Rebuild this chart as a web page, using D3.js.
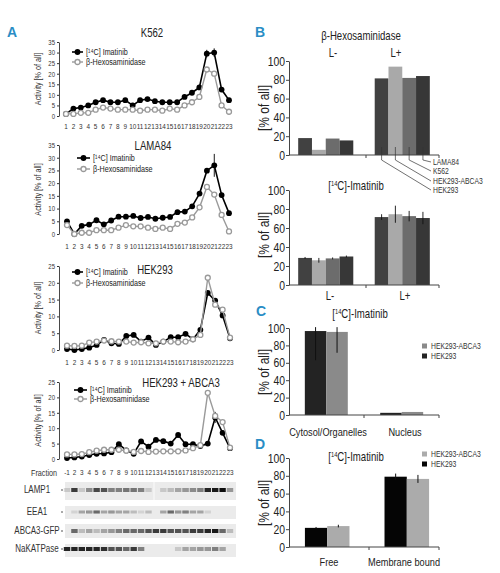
<!DOCTYPE html>
<html><head><meta charset="utf-8">
<script src="https://cdn.jsdelivr.net/npm/d3@7"></script>
<style>
body{margin:0;background:#fff}
svg{display:block}
text{font-family:"Liberation Sans",Arial,sans-serif;fill:#222}
tspan{fill:#1a1a1a}
</style></head><body>
<svg id="c" width="500" height="573"></svg>
<script>
// ---------- DATA ----------
const fractionTicks = ["1","2","3","4","5","6","7","8","9","10","11","12","13","14","15","16","17","18","19","20","21","22","23"];
const fractionTicksABCA3 = ["-1","2","3","4","5","6","7","8","9","10","11","12","13","14","15","16","17","18","19","20","21","22","23"];

const k562Imatinib = [1,3.5,4,5,6.5,7.5,6.5,6.5,7.5,5,7.5,8,7,6.5,6.5,6.5,9,11,13.5,29.5,30,12.5,7.5];
const k562Hex      = [1,1,1.5,1.5,3,4,3.5,3,3,3,2.5,3,3,2.5,3.5,3,5,6.5,9,22,20,5,2];
const k562Err      = [["20",1.8],["21",2]];

const lamaImatinib = [5,0,3.2,3.7,5.4,3.8,5.3,6.8,6.8,7.1,6.3,6.7,6,6.4,6.7,8.6,8.8,10.9,15.9,24.9,27,15.3,8.2];
const lamaHex      = [3.5,0,0.5,0.5,1.5,1.5,1.5,2.5,3.5,3,3,2.5,2,2.5,2,4,4.5,6.5,10.5,18.5,15.5,7.5,1];
const lamaErr      = [["21",4.5]];

const hekImatinib = [0.3,0,0.3,0.7,1.5,3,2,1.8,4.2,4.5,2.5,3.7,1.5,2.5,3.8,3.8,4.8,3.2,6,17,14.7,10.3,3.5];
const hekHex      = [1.3,1.2,1.3,2.2,2.5,2.8,2.6,2.5,2.5,2.2,2.3,2,2,2.5,2.5,2.3,2.5,3.2,4.5,21.5,13.5,12,3.7];

const abcaImatinib = [0.3,0.5,0.8,1.3,1.7,1.8,2.2,4.8,2.8,1.7,5.7,4,6.2,5.8,5,7.8,4.8,4.8,4.2,5,13.5,8.5,3.5];
const abcaHex      = [1.5,1.5,1.6,2.2,2.7,3,3,3,2.7,2.3,2.6,2.3,2.4,2.5,2.5,2.5,2.8,3.5,4.5,21.5,14,12,3.7];
const abcaErr      = [["21",1.8]];

const seriesNamesA = ["[¹⁴C] Imatinib","β-Hexosaminidase"];

const blotNames = ["LAMP1","EEA1","ABCA3-GFP","NaKATPase"];
const blotLAMP1 = [0.15,0.8,0.15,0.45,0.75,0.7,0.5,0.5,0.55,0.55,0.5,0.15,0,0.15,0.2,0.3,0.4,0.45,0.5,0.9,0.95,1,0.4];
const blotEEA1  = [0,0.1,0.3,0.4,0.6,0.3,0.4,0.3,0.3,0.2,0.1,0.2,0,0.3,0.6,0.4,0.5,0.3,0.3,0.1,0,0,0];
const blotABCA3 = [0,0.6,0.2,0.3,0.2,0.3,0.4,0.5,0.6,0.6,0.6,0.7,0.8,0.8,0.7,0.7,0.7,0.8,0.8,0.9,0.95,0.6,0.2];
const blotNaK   = [0.9,0.9,0.9,0.9,0.9,0.85,0.7,0.7,0.6,0.8,0.5,0,0,0,0,0.15,0.3,0.3,0.4,0.4,0.5,0.3,0];

const bGroups = ["L-","L+"];
const bSeries = ["HEK293","HEK293-ABCA3","K562","LAMA84"];
const bColors = ["#414141","#a9a9a9","#6c6c6c","#373737"];
const bHexLminus = [18,5.5,17.5,15.5];
const bHexLplus  = [81.5,94,82,84];
const bImaLminus = [28.5,26,28,30];
const bImaLplus  = [71.5,74.5,72.5,70.5];
const bImaErrLminus = [1,2.5,1,1];
const bImaErrLplus  = [3,9,5.5,6.5];
const bLegendOrder = ["LAMA84","K562","HEK293-ABCA3","HEK293"];

const cGroups = ["Cytosol/Organelles","Nucleus"];
const cSeries = ["HEK293","HEK293-ABCA3"];
const cColors = ["#232323","#8a8a8a"];
const cValues = [[96.5,95.5],[2.5,3.5]];
const cErrLow  = [[63,71.5],[2.5,3.5]];
const cErrHigh = [[101,101],[2.5,3.5]];

const dGroups = ["Free","Membrane bound"];
const dSeries = ["HEK293","HEK293-ABCA3"];
const dColors = ["#050505","#ababab"];
const dValues = [[21.5,23.5],[79,76.5]];
const dErr    = [[1,1.5],[3.5,4.5]];

const percentTicks = [0,20,40,60,80,100];
const activityTicks35 = [0,5,10,15,20,25,30,35];
const activityTicks25 = [0,5,10,15,20,25];

// ---------- DRAW ----------
const svg = d3.select("#c");
const blue = "#2a8dc5";
const NARROW = 0.8;

function panelLetter(t,x,y){
  svg.append("text").attr("class","letter").attr("x",x).attr("y",y).text(t)
    .style("font-weight","bold").style("font-size","14px").style("fill",blue);
}
function c14(sel, size, after){
  sel.append("tspan").text("[");
  sel.append("tspan").text("14").style("font-size",(size*0.6)+"px").attr("dy",-size*0.35);
  sel.append("tspan").text("C]"+after).attr("dy",size*0.35);
}

panelLetter("A",7,37);
panelLetter("B",255,37);
panelLetter("C",256,316);
panelLetter("D",255,449);

function lineChart(o){
  const g = svg.append("g");
  const x = d3.scalePoint().domain(o.ticks).range([o.x0,o.x1]);
  const y = d3.scaleLinear().domain([0,o.ymax]).range([o.yb,o.yt]);
  const ax = g.append("g").attr("transform",`translate(${o.ax},0)`)
    .call(d3.axisLeft(y).tickValues(o.yticks).tickSize(2).tickPadding(2).tickSizeOuter(0));
  ax.select(".domain").attr("stroke","#333").attr("stroke-width",0.9);
  ax.selectAll(".tick line").attr("stroke","#333");
  ax.selectAll(".tick text").style("font-size","7.5px").style("fill","#333");
  g.append("g").selectAll("text").data(o.ticks).join("text")
    .attr("x",d=>x(d)).attr("y",o.xl).attr("text-anchor","middle")
    .style("font-size","8px").style("fill","#333").text(d=>d);
  g.append("text").attr("transform",`translate(${o.ylx},${(o.yb+o.yt)/2}) rotate(-90)`)
    .attr("text-anchor","middle").style("font-size","9px").style("fill","#333").text("Activity [% of all]");
  g.append("text").attr("x",o.tx).attr("y",o.ty).attr("text-anchor","middle")
    .style("font-size","12px").style("fill","#222").text(o.title);
  const line = d3.line().x((d,i)=>x(o.ticks[i])).y(d=>y(d));
  g.append("path").attr("d",line(o.ima)).attr("fill","none").attr("stroke","#000").attr("stroke-width",1.6);
  (o.err||[]).forEach(([f,e])=>{
    const i = o.ticks.indexOf(f);
    g.append("line").attr("x1",x(f)).attr("x2",x(f)).attr("y1",y(o.ima[i]-e)).attr("y2",y(o.ima[i]+e))
      .attr("stroke","#000").attr("stroke-width",0.9);
  });
  g.append("g").selectAll("circle").data(o.ima).join("circle")
    .attr("cx",(d,i)=>x(o.ticks[i])).attr("cy",d=>y(d)).attr("r",2.9).attr("fill","#000");
  g.append("path").attr("d",line(o.hex)).attr("fill","none").attr("stroke","#9a9a9a").attr("stroke-width",1.4);
  g.append("g").selectAll("circle").data(o.hex).join("circle")
    .attr("cx",(d,i)=>x(o.ticks[i])).attr("cy",d=>y(d)).attr("r",2.5)
    .attr("fill","#fff").attr("stroke","#9a9a9a").attr("stroke-width",1.3);
  const L = o.leg;
  g.append("line").attr("x1",L.x).attr("x2",L.x+L.w).attr("y1",L.y1).attr("y2",L.y1).attr("stroke","#000").attr("stroke-width",1.6);
  g.append("circle").attr("cx",L.x+L.w/2).attr("cy",L.y1).attr("r",2.9).attr("fill","#000");
  g.append("text").attr("x",L.x+L.w+3).attr("y",L.y1+3).style("font-size","9px").style("fill","#1a1a1a").text(seriesNamesA[0]);
  g.append("line").attr("x1",L.x).attr("x2",L.x+L.w).attr("y1",L.y2).attr("y2",L.y2).attr("stroke","#9a9a9a").attr("stroke-width",1.4);
  g.append("circle").attr("cx",L.x+L.w/2).attr("cy",L.y2).attr("r",2.5).attr("fill","#fff").attr("stroke","#9a9a9a").attr("stroke-width",1.3);
  g.append("text").attr("x",L.x+L.w+3).attr("y",L.y2+3).style("font-size","9px").style("fill","#1a1a1a").text(seriesNamesA[1]);
  return x;
}

lineChart({ticks:fractionTicks,x0:66,x1:229,ax:59,yt:42,yb:116,ymax:35,yticks:activityTicks35,xl:129,ylx:41,
  title:"K562",tx:152,ty:37,ima:k562Imatinib,hex:k562Hex,err:k562Err,leg:{x:72,w:11,y1:52,y2:62}});
lineChart({ticks:fractionTicks,x0:67,x1:229,ax:59,yt:145,yb:234,ymax:35,yticks:activityTicks35,xl:249,ylx:41,
  title:"LAMA84",tx:153,ty:150,ima:lamaImatinib,hex:lamaHex,err:lamaErr,leg:{x:77,w:13,y1:158,y2:169}});
lineChart({ticks:fractionTicks,x0:67,x1:230,ax:59,yt:266,yb:350,ymax:25,yticks:activityTicks25,xl:365,ylx:41,
  title:"HEK293",tx:155,ty:274,ima:hekImatinib,hex:hekHex,err:[],leg:{x:72,w:11,y1:272,y2:283}});
const xAb = lineChart({ticks:fractionTicksABCA3,x0:67,x1:230,ax:59,yt:382,yb:459,ymax:25,yticks:activityTicks25,xl:475,ylx:41,
  title:"HEK293 + ABCA3",tx:181,ty:387,ima:abcaImatinib,hex:abcaHex,err:abcaErr,leg:{x:74,w:13,y1:390,y2:399}});
svg.append("text").attr("x",44).attr("y",476).attr("text-anchor","middle").style("font-size","9px").style("fill","#333").text("Fraction");

// blots
const defs = svg.append("defs");
defs.append("filter").attr("id","blur").append("feGaussianBlur").attr("stdDeviation",0.7);
const blotData = [blotLAMP1,blotEEA1,blotABCA3,blotNaK];
const blotRows = [{y0:482,y1:500,by:490,bh:4},{y0:506,y1:519,by:512,bh:3},{y0:524,y1:538,by:531,bh:4},{y0:544,y1:557,by:549,bh:4}];
blotRows.forEach((r,k)=>{
  svg.append("rect").attr("x",65).attr("y",r.y0).attr("width",171).attr("height",r.y1-r.y0).attr("fill","#ebebeb");
  svg.append("text").attr("x",37).attr("y",r.by+3).attr("text-anchor","middle").style("font-size","10px").style("fill","#333").text(blotNames[k]);
  svg.append("line").attr("x1",61).attr("x2",63).attr("y1",r.by).attr("y2",r.by).attr("stroke","#555");
  svg.append("g").attr("filter","url(#blur)").selectAll("rect").data(blotData[k]).join("rect")
    .attr("x",(d,i)=>xAb(fractionTicksABCA3[i])-3.2).attr("y",r.by-r.bh/2).attr("width",6.4).attr("height",r.bh)
    .attr("fill","#111").attr("opacity",d=>d);
});
svg.append("line").attr("x1",154).attr("x2",154).attr("y1",482).attr("y2",500).attr("stroke","#fff").attr("stroke-width",0.8);

function barAxes(g,y,x0,x1,midX,ylabelY,ylx){
  const ax = g.append("g").attr("transform",`translate(${x0},0)`)
    .call(d3.axisLeft(y).tickValues(percentTicks).tickSize(3).tickPadding(1).tickSizeOuter(0));
  ax.select(".domain").attr("stroke","#444");
  ax.selectAll(".tick line").attr("stroke","#444");
  ax.selectAll(".tick text").style("font-size","13px").style("fill","#222");
  const yb = y(0);
  g.append("line").attr("x1",x0).attr("x2",x1).attr("y1",yb).attr("y2",yb).attr("stroke","#444");
  [midX,x1].forEach(xx=>g.append("line").attr("x1",xx).attr("x2",xx).attr("y1",yb).attr("y2",yb+3).attr("stroke","#444"));
  g.append("text").attr("transform",`translate(${ylx},${ylabelY}) rotate(-90)`).attr("text-anchor","middle")
    .style("font-size","15px").style("fill","#222").text("[% of all]");
}

// Panel B top
(function(){
  const g = svg.append("g");
  const y = d3.scaleLinear().domain([0,100]).range([155,61]);
  const xg = d3.scaleBand().domain(bGroups).range([289,439]).paddingInner(0.28).paddingOuter(0.12);
  const xs = d3.scaleBand().domain(bSeries).range([0,xg.bandwidth()]);
  const vals = [bHexLminus,bHexLplus];
  bGroups.forEach((grp,gi)=>{
    g.append("g").selectAll("rect").data(vals[gi]).join("rect")
      .attr("x",(d,i)=>xg(grp)+xs(bSeries[i])).attr("width",xs.bandwidth())
      .attr("y",d=>y(d)).attr("height",d=>y(0)-y(d)).attr("fill",(d,i)=>bColors[i]);
  });
  barAxes(g,y,289,439,366,108,269);
  g.append("text").attr("x",361).attr("y",40).attr("text-anchor","middle").style("font-size","12px").text("β-Hexosaminidase");
  g.append("text").attr("x",333).attr("y",57).attr("text-anchor","middle").style("font-size","12px").text(bGroups[0]);
  g.append("text").attr("x",396).attr("y",57).attr("text-anchor","middle").style("font-size","12px").text(bGroups[1]);
  const labY = {"LAMA84":163,"K562":172,"HEK293-ABCA3":182,"HEK293":191};
  bLegendOrder.forEach(s=>{
    const cx = xg("L+")+xs(s)+xs.bandwidth()/2;
    const ly = labY[s];
    g.append("path").attr("d",`M${cx},${y(0)-8}L${cx},${y(0)+5}L${431},${ly-1}`).attr("fill","none").attr("stroke","#333").attr("stroke-width",0.7);
    g.append("text").attr("x",433).attr("y",ly+2).style("font-size","8.5px").style("fill","#333").text(s);
  });
})();

// Panel B bottom
(function(){
  const g = svg.append("g");
  const y = d3.scaleLinear().domain([0,100]).range([285,190]);
  const xg = d3.scaleBand().domain(bGroups).range([289,439]).paddingInner(0.28).paddingOuter(0.12);
  const xs = d3.scaleBand().domain(bSeries).range([0,xg.bandwidth()]);
  const vals = [bImaLminus,bImaLplus], errs=[bImaErrLminus,bImaErrLplus];
  bGroups.forEach((grp,gi)=>{
    g.append("g").selectAll("rect").data(vals[gi]).join("rect")
      .attr("x",(d,i)=>xg(grp)+xs(bSeries[i])).attr("width",xs.bandwidth())
      .attr("y",d=>y(d)).attr("height",d=>y(0)-y(d)).attr("fill",(d,i)=>bColors[i]);
    g.append("g").selectAll("line").data(vals[gi]).join("line")
      .attr("x1",(d,i)=>xg(grp)+xs(bSeries[i])+xs.bandwidth()/2).attr("x2",(d,i)=>xg(grp)+xs(bSeries[i])+xs.bandwidth()/2)
      .attr("y1",(d,i)=>y(d-errs[gi][i])).attr("y2",(d,i)=>y(d+errs[gi][i])).attr("stroke","#111").attr("stroke-width",0.9);
  });
  barAxes(g,y,289,439,366,235,269);
  const t = g.append("text").attr("x",356).attr("y",190).attr("text-anchor","middle").style("font-size","12px");
  c14(t,12,"-Imatinib");
  g.append("text").attr("x",330).attr("y",300).attr("text-anchor","middle").style("font-size","12px").text(bGroups[0]);
  g.append("text").attr("x",405).attr("y",300).attr("text-anchor","middle").style("font-size","12px").text(bGroups[1]);
})();

function smallLegend(g,series,colors,x,y0,dy){
  series.slice().reverse().forEach((s,k)=>{
    const i = series.length-1-k;
    g.append("rect").attr("x",x).attr("y",y0+k*dy-2.5).attr("width",5).attr("height",5).attr("fill",colors[i]);
    g.append("text").attr("x",x+9).attr("y",y0+k*dy+3).style("font-size","8.5px").style("fill","#333").text(s);
  });
}

// Panel C
(function(){
  const g = svg.append("g");
  const y = d3.scaleLinear().domain([0,100]).range([415,328]);
  const xg = d3.scaleBand().domain(cGroups).range([289,439]).paddingInner(0.43).paddingOuter(0.21);
  const xs = d3.scaleBand().domain(cSeries).range([0,xg.bandwidth()]);
  cGroups.forEach((grp,gi)=>{
    g.append("g").selectAll("rect").data(cValues[gi]).join("rect")
      .attr("x",(d,i)=>xg(grp)+xs(cSeries[i])).attr("width",xs.bandwidth())
      .attr("y",d=>y(d)).attr("height",d=>y(0)-y(d)).attr("fill",(d,i)=>cColors[i]);
    g.append("g").selectAll("line").data(cValues[gi]).join("line")
      .attr("x1",(d,i)=>xg(grp)+xs(cSeries[i])+xs.bandwidth()/2).attr("x2",(d,i)=>xg(grp)+xs(cSeries[i])+xs.bandwidth()/2)
      .attr("y1",(d,i)=>y(cErrLow[gi][i])).attr("y2",(d,i)=>y(cErrHigh[gi][i])).attr("stroke","#111").attr("stroke-width",1);
  });
  barAxes(g,y,289,439,364,372,269);
  const t = g.append("text").attr("x",360).attr("y",318).attr("text-anchor","middle").style("font-size","12px");
  c14(t,12,"-Imatinib");
  g.append("text").attr("x",328).attr("y",436).attr("text-anchor","middle").style("font-size","11.5px").text(cGroups[0]);
  g.append("text").attr("x",405).attr("y",436).attr("text-anchor","middle").style("font-size","11.5px").text(cGroups[1]);
  smallLegend(g,cSeries,cColors,422,346,10);
})();

// Panel D
(function(){
  const g = svg.append("g");
  const y = d3.scaleLinear().domain([0,100]).range([547,458]);
  const xg = d3.scaleBand().domain(dGroups).range([289,445]).paddingInner(0.44).paddingOuter(0.2);
  const xs = d3.scaleBand().domain(dSeries).range([0,xg.bandwidth()]);
  dGroups.forEach((grp,gi)=>{
    g.append("g").selectAll("rect").data(dValues[gi]).join("rect")
      .attr("x",(d,i)=>xg(grp)+xs(dSeries[i])).attr("width",xs.bandwidth())
      .attr("y",d=>y(d)).attr("height",d=>y(0)-y(d)).attr("fill",(d,i)=>dColors[i]);
    g.append("g").selectAll("line").data(dValues[gi]).join("line")
      .attr("x1",(d,i)=>xg(grp)+xs(dSeries[i])+xs.bandwidth()/2).attr("x2",(d,i)=>xg(grp)+xs(dSeries[i])+xs.bandwidth()/2)
      .attr("y1",(d,i)=>y(d-dErr[gi][i])).attr("y2",(d,i)=>y(d+dErr[gi][i])).attr("stroke","#111").attr("stroke-width",1);
  });
  barAxes(g,y,289,439,369,503,269);
  const t = g.append("text").attr("x",356).attr("y",461).attr("text-anchor","middle").style("font-size","12px");
  c14(t,12,"-Imatinib");
  g.append("text").attr("x",329).attr("y",566).attr("text-anchor","middle").style("font-size","11.5px").text(dGroups[0]);
  g.append("text").attr("x",404).attr("y",566).attr("text-anchor","middle").style("font-size","11.5px").text(dGroups[1]);
  smallLegend(g,dSeries,dColors,422,454,10);
})();

// condense all text (narrow typeface look)
svg.selectAll("text:not(.letter)").each(function(){
  const s = d3.select(this);
  const x = +s.attr("x") || 0, y = +s.attr("y") || 0;
  const tr = s.attr("transform") || "";
  s.attr("transform", `${tr} translate(${x},${y}) scale(${NARROW},1)`).attr("x",0).attr("y",0);
});
</script>
</body></html>
